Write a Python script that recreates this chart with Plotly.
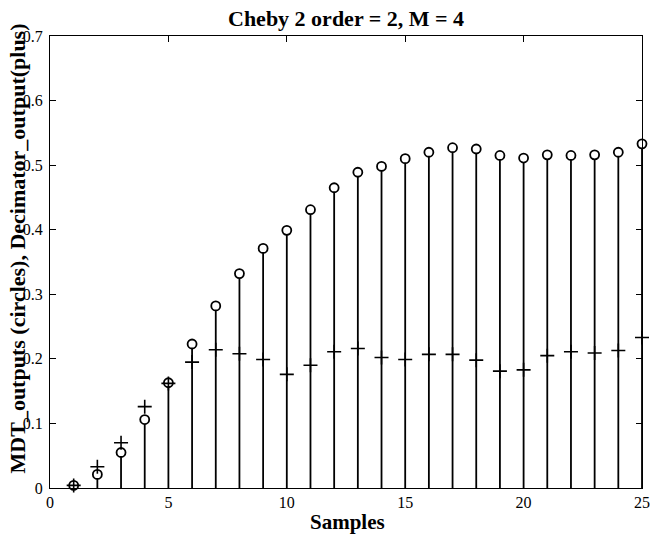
import plotly.graph_objects as go

# Sample index and the two output sequences
samples = list(range(1, 26))
mdt_outputs = [0.004, 0.021, 0.055, 0.106, 0.163, 0.223, 0.282, 0.332, 0.371, 0.399,
               0.431, 0.465, 0.489, 0.498, 0.510, 0.520, 0.527, 0.525, 0.515, 0.511,
               0.516, 0.515, 0.516, 0.520, 0.533]
decimator_output = [0.004, 0.033, 0.070, 0.126, 0.162, 0.195, 0.214, 0.208, 0.199, 0.176,
                    0.190, 0.211, 0.216, 0.202, 0.199, 0.207, 0.207, 0.198, 0.181, 0.183,
                    0.205, 0.211, 0.209, 0.213, 0.233]

title_text = "Cheby 2 order = 2, M = 4"
x_label = "Samples"
y_label = "MDT_outputs (circles), Decimator_output(plus)"

serif = "Liberation Serif, Times New Roman, serif"

fig = go.Figure()

# MDT outputs: stems from zero drawn as one-sided error bars, open circles on top
fig.add_trace(go.Scatter(
    x=samples, y=mdt_outputs, mode="markers", cliponaxis=False,
    marker=dict(symbol="circle", size=9, color="white",
                line=dict(color="black", width=1.8)),
    error_y=dict(type="data", symmetric=False,
                 array=[0] * len(mdt_outputs), arrayminus=mdt_outputs,
                 color="black", thickness=1.8, width=0),
    showlegend=False, hoverinfo="x+y",
))

# Decimator output: plus markers
fig.add_trace(go.Scatter(
    x=samples, y=decimator_output, mode="markers", cliponaxis=False,
    marker=dict(symbol="cross-thin", size=10,
                line=dict(color="black", width=1.6)),
    showlegend=False, hoverinfo="x+y",
))

axis_common = dict(
    showline=True, linecolor="black", linewidth=1.2, mirror="ticks",
    ticks="inside", ticklen=6, tickwidth=1, tickcolor="black",
    showgrid=False, zeroline=False,
    tickfont=dict(family=serif, size=16, color="black"),
)

fig.update_layout(
    width=660, height=535,
    margin=dict(l=50, r=10, t=36, b=47),
    paper_bgcolor="white", plot_bgcolor="white",
    xaxis=dict(range=[0, 25], tick0=0, dtick=5, ticklabelstandoff=0, **axis_common),
    yaxis=dict(range=[0, 0.7], tick0=0, dtick=0.1, ticklabelstandoff=3, **axis_common),
    annotations=[
        dict(text="<b>%s</b>" % title_text, xref="paper", yref="paper",
             x=0.497, xshift=2, y=1.0, yshift=18, xanchor="center", yanchor="middle",
             showarrow=False, font=dict(family=serif, size=22, color="black")),
        dict(text="<b>%s</b>" % x_label, xref="paper", yref="paper",
             x=0.498, xshift=3, y=0, yshift=-34, xanchor="center", yanchor="middle",
             showarrow=False, font=dict(family=serif, size=21, color="black")),
        dict(text="<b>%s</b>" % y_label, xref="paper", yref="paper",
             x=0, xshift=-33, y=0.53, xanchor="center", yanchor="middle",
             textangle=-90, showarrow=False,
             font=dict(family=serif, size=22, color="black")),
    ],
)

fig.write_html("out.html")
